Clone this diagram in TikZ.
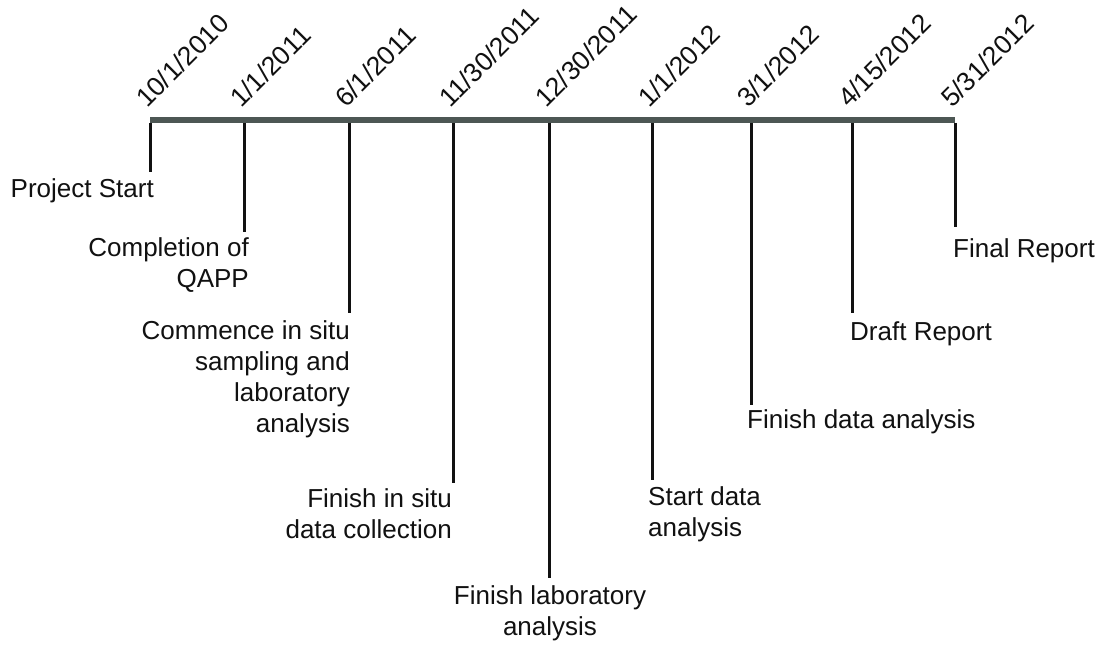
\documentclass[tikz,border=0pt]{standalone}
\usepackage{fontspec}
\setmainfont{Liberation Sans}
\usetikzlibrary{calc}
\definecolor{bargray}{HTML}{4D5754}
\definecolor{inkblack}{HTML}{111111}
\begin{document}
\begin{tikzpicture}[x=1pt,y=1pt,
  lbl/.style={inner sep=0pt,font=\fontsize{26}{31}\selectfont,text=inkblack},
  datelbl/.style={inner sep=0pt,font=\fontsize{26.5}{30}\selectfont,text=inkblack,rotate=45,anchor=base west},
  tick/.style={draw=inkblack,line width=3pt},
  bar/.style={draw=bargray,line width=6pt}]
\useasboundingbox (0,0) rectangle (1107,656);
\fill[white] (0,0) rectangle (1107,656);
% bar ends
\coordinate (b0) at (150,536);
\coordinate (b9) at (955,536);
% tick tops and bottoms
\foreach \n/\x/\yb in {1/150/172,2/244/232,3/349/313,4/453/483,5/549/578,6/652/480,7/751/405,8/852/313,9/955/227}{
  \coordinate (t\n) at (\x,533);
  \coordinate (e\n) at (\x,656-\yb);
}
\draw[bar] (b0) -- (b9);
\foreach \n in {1,...,9}{\draw[tick] (t\n) -- (e\n);}
% dates
\node[datelbl] (d1) at ($(t1)+(-3,14)$) {10/1/2010};
\node[datelbl] (d2) at ($(t2)+(-3,14)$) {1/1/2011};
\node[datelbl] (d3) at ($(t3)+(-3,14)$) {6/1/2011};
\node[datelbl] (d4) at ($(t4)+(-3,14)$) {11/30/2011};
\node[datelbl] (d5) at ($(t5)+(-3,14)$) {12/30/2011};
\node[datelbl] (d6) at ($(t6)+(-3,14)$) {1/1/2012};
\node[datelbl] (d7) at ($(t7)+(-3,14)$) {3/1/2012};
\node[datelbl] (d8) at ($(t8)+(-3,14)$) {4/15/2012};
\node[datelbl] (d9) at ($(t9)+(-3,14)$) {5/31/2012};
% labels
\node[lbl,anchor=east] (l1) at (154,465) {Project Start};
\node[lbl,anchor=east,align=right] (l2) at (249,391) {Completion of\\QAPP};
\node[lbl,anchor=east,align=right] (l3) at (350,277) {Commence in situ\\sampling and\\laboratory\\analysis};
\node[lbl,anchor=east,align=right] (l4) at (452,142) {Finish in situ\\data collection};
\node[lbl,anchor=center,align=center] (l5) at (550,43) {Finish laboratory\\analysis};
\node[lbl,anchor=west,align=left] (l6) at (648,142) {Start data\\analysis};
\node[lbl,anchor=west] (l7) at (747,234) {Finish data analysis};
\node[lbl,anchor=west] (l8) at (850,322) {Draft Report};
\node[lbl,anchor=west] (l9) at (953,405) {Final Report};
\end{tikzpicture}
\end{document}
